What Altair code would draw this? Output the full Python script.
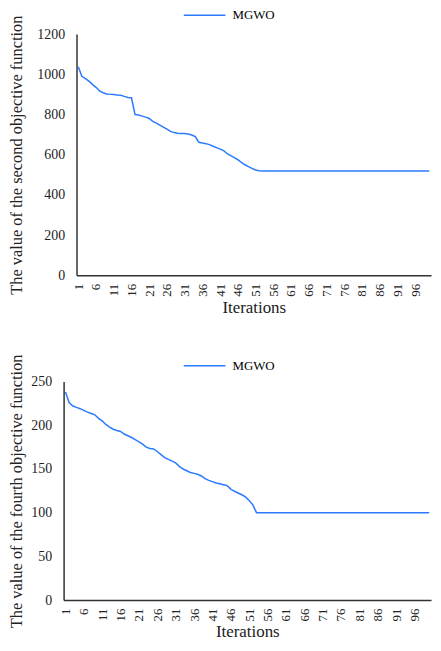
import altair as alt
import pandas as pd

iterations = list(range(1, 101))

second_obj = [
    1037, 990, 978, 966, 950, 935, 917, 908, 902, 900,
    899, 897, 896, 890, 885, 883, 800, 797, 792, 787,
    780, 766, 757, 747, 737, 727, 716, 710, 707, 706,
    705, 703, 698, 690, 662, 658, 655, 650, 642, 635,
    628, 620, 605, 595, 585, 575, 562, 550, 541, 532,
    524, 520, 519, 519, 519, 519, 519, 519, 519, 519,
    519, 519, 519, 519, 519, 519, 519, 519, 519, 519,
    519, 519, 519, 519, 519, 519, 519, 519, 519, 519,
    519, 519, 519, 519, 519, 519, 519, 519, 519, 519,
    519, 519, 519, 519, 519, 519, 519, 519, 519, 519,
]

fourth_obj = [
    238, 226, 222, 220.5, 219, 217, 215, 213.5, 212, 208,
    205, 201, 198, 195.5, 194, 193, 190, 188, 186, 183.5,
    181, 178.5, 175, 173.5, 173, 170, 166.5, 163, 161, 159,
    157, 153, 150, 148, 146, 145, 144, 142, 139, 137,
    135.5, 134, 133, 132, 131, 127, 124.5, 122.5, 120.5, 118,
    114, 109, 100, 100, 100, 100, 100, 100, 100, 100,
    100, 100, 100, 100, 100, 100, 100, 100, 100, 100,
    100, 100, 100, 100, 100, 100, 100, 100, 100, 100,
    100, 100, 100, 100, 100, 100, 100, 100, 100, 100,
    100, 100, 100, 100, 100, 100, 100, 100, 100, 100,
]

x_ticks = [1, 6, 11, 16, 21, 26, 31, 36, 41, 46, 51, 56, 61, 66, 71, 76, 81, 86, 91, 96]
series_name = "MGWO"

FONT = "Liberation Serif"
BLUE = "#2A7BFF"
W = 370


def make_panel(values, ytitle, ydomain, ystep, h, inset, legend_x, legend_y, title_x,
               xlabel_pad, xtitle_pad):
    df = pd.DataFrame({"it": iterations, "val": values, "series": series_name})
    return alt.Chart(df).mark_line(strokeWidth=1.5).encode(
        x=alt.X(
            "it:Q",
            scale=alt.Scale(domain=[0.5, 100.5], nice=False, zero=False, range=[inset, W]),
            axis=alt.Axis(
                values=x_ticks, labelAngle=-90, title="Iterations", grid=False,
                ticks=False, labelPadding=xlabel_pad, titlePadding=xtitle_pad,
                titleFontSize=17, labelFontSize=13, labelFlush=False, labelOverlap=False,
            ),
        ),
        y=alt.Y(
            "val:Q",
            scale=alt.Scale(domain=ydomain, nice=False),
            axis=alt.Axis(
                values=list(range(ydomain[0], ydomain[1] + 1, ystep)), title=ytitle,
                format="d", grid=False, ticks=False, labelPadding=12, titleFontSize=16.5,
                labelFontSize=14, titleX=title_x, offset=-inset,
            ),
        ),
        color=alt.Color(
            "series:N",
            scale=alt.Scale(range=[BLUE]),
            legend=alt.Legend(
                title=None, orient="none", legendX=legend_x, legendY=legend_y,
                symbolType="M-3,0H3", symbolSize=196, symbolStrokeWidth=1.5,
                symbolFillColor="transparent",
                labelFontSize=13, labelOffset=20, labelFont=FONT, padding=0,
            ),
        ),
    ).properties(width=W, height=h)


top = make_panel(second_obj, "The value of the second objective function", [0, 1200], 200,
                 243, 13, 134, -27, -52, 8, 3)
bottom = make_panel(fourth_obj, "The value of the fourth objective function", [0, 250], 50,
                    220, 0, 134, -24, -39, 8, 3)

chart = alt.vconcat(top, bottom, spacing=39).resolve_scale(
    color="independent"
).resolve_legend(
    color="independent"
).properties(
    padding={"top": -3, "bottom": 0, "left": 0, "right": 0}
).configure(font=FONT).configure_axis(
    domainColor="#333333", domainWidth=1.5, labelColor="#222222", titleColor="#222222",
    labelFont=FONT, titleFont=FONT, titleFontWeight="normal",
).configure_view(stroke=None)

chart.save("out.html", embed_options={"renderer": "svg", "actions": False})
